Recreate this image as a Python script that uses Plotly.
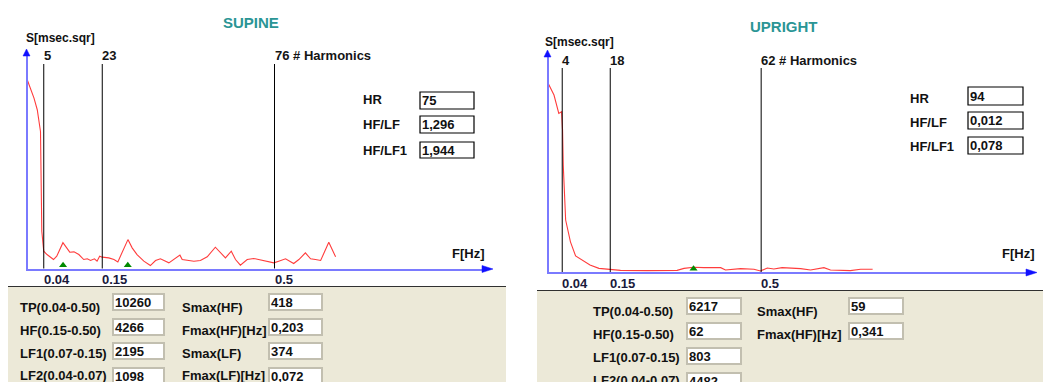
import plotly.graph_objects as go

# ---------------- data ----------------
# SUPINE spectrum: harmonic index and power S [msec.sqr]
supine_k = [0, 2, 3, 4, 4.4, 5, 6, 8, 9, 10.9, 13, 14.3, 15.8, 17.3, 18.4, 19.4, 20.6, 21.4, 22.2, 23,
            25, 26.6, 27.8, 30.9, 32.2, 33.7, 35.8, 37.8, 39.4, 40.9, 43.5, 45, 46.9, 47.6, 49.1, 51.2,
            53.2, 55.3, 57.8, 59.4, 60.9, 62.7, 64, 65.5, 67.6, 69.6, 72.7, 74.3, 75.8, 77.3, 79.4,
            81.9, 83.5, 85.5, 87.1, 88.6, 90.2, 92.7, 94.8]
supine_s = [2721, 2466, 2298, 1984, 539, 250, 202, 130, 178, 374, 236, 241, 202, 130, 140, 116, 140, 106, 178, 164,
            154, 130, 96, 418, 299, 202, 106, 43, 116, 140, 82, 130, 193, 130, 120, 106,
            116, 169, 308, 226, 154, 250, 130, 48, 130, 145, 116, 92, 82, 106, 140,
            72, 130, 226, 140, 130, 116, 380, 169]

# UPRIGHT spectrum
upright_k = [0, 1.6, 3.0, 3.8, 4.1, 4.3, 5.0, 6.4, 7.9, 9.8, 12.1, 14.7, 17.9, 21, 28.8, 34.6, 37.5, 39.5,
             42.3, 45.3, 50.2, 51.6, 56, 59.9, 61.8, 63.8, 65.7, 68.1, 73.5, 76.4, 80.3, 82.2, 88, 91, 94.5]
upright_s = [2369, 2230, 1999, 2020, 1789, 1348, 655, 380, 202, 151, 88, 46, 38, 21, 17, 25, 21, 46,
             59, 55, 55, 25, 42, 34, 13, 50, 38, 55, 42, 25, 55, 25, 17, 34, 34]

# band-limit harmonics and their frequency labels
supine_harm = [5, 23, 76]
upright_harm = [4, 18, 62]
harm_top_labels_sup = ["5", "23", "76 # Harmonics"]
harm_top_labels_up = ["4", "18", "62 # Harmonics"]
freq_tick_labels = ["0.04", "0.15", "0.5"]

# peak frequencies (Hz) marked with green triangles
supine_peak_f = [0.072, 0.203]
upright_peak_f = [0.341]

# readouts
sup_top_labels = ["HR", "HF/LF", "HF/LF1"]
sup_top_values = ["75", "1,296", "1,944"]
up_top_labels = ["HR", "HF/LF", "HF/LF1"]
up_top_values = ["94", "0,012", "0,078"]

band_labels = ["TP(0.04-0.50)", "HF(0.15-0.50)", "LF1(0.07-0.15)", "LF2(0.04-0.07)"]
sup_band_values = ["10260", "4266", "2195", "1098"]
up_band_values = ["6217", "62", "803", "4482"]
sup_max_labels = ["Smax(HF)", "Fmax(HF)[Hz]", "Smax(LF)", "Fmax(LF)[Hz]"]
sup_max_values = ["418", "0,203", "374", "0,072"]
up_max_labels = ["Smax(HF)", "Fmax(HF)[Hz]"]
up_max_values = ["59", "0,341"]

# ---------------- layout helpers ----------------
W, H = 1043, 382
FONT = "Liberation Sans, Arial, sans-serif"


def px(x):
    return x / W


def py(y):
    return 1 - y / H


shapes = []
annotations = []


def ann(text, x, y, size=13, color="#111111", xanchor="left", bold=True):
    annotations.append(dict(
        text=f"<b>{text}</b>" if bold else text, x=px(x), y=py(y), xref="paper", yref="paper",
        xanchor=xanchor, yanchor="middle", showarrow=False,
        font=dict(family=FONT, size=size, color=color)))


def rect(x0, y0, x1, y1, fill, line, lw=1):
    shapes.append(dict(type="rect", xref="paper", yref="paper",
                       x0=px(x0), x1=px(x1), y0=py(y1), y1=py(y0),
                       fillcolor=fill, line=dict(color=line, width=lw), layer="below"))


def tri(points, color):
    d = "M " + " L ".join(f"{px(a)},{py(b)}" for a, b in points) + " Z"
    shapes.append(dict(type="path", xref="paper", yref="paper", path=d,
                       fillcolor=color, line=dict(color=color, width=0.5), layer="above"))


AXIS_COL = "#7a7aff"
ARROW_COL = "#1010ff"
CURVE_COL = "rgb(255,60,60)"

# panel geometry (pixels)
panels = [
    dict(name="SUPINE", k=supine_k, s=supine_s, harm=supine_harm, tops=harm_top_labels_sup,
         n05=76, peaks=supine_peak_f,
         x0=27.5, x1=483, ppk=3.25, base=268.5, top=55, maxpx=188, vtop=64,
         title_xy=(251, 23), ylab_xy=(26, 38), toplab_y=56, tick_y=279, fhz_xy=(452, 253),
         xarrow=(482, 493), yarrow=(49, 56)),
    dict(name="UPRIGHT", k=upright_k, s=upright_s, harm=upright_harm, tops=harm_top_labels_up,
         n05=62, peaks=upright_peak_f,
         x0=548.5, x1=1027, ppk=3.43, base=272, top=56, maxpx=188, vtop=68,
         title_xy=(784, 26), ylab_xy=(545, 42), toplab_y=60, tick_y=283, fhz_xy=(1002, 253),
         xarrow=(1026, 1037), yarrow=(50, 57)),
]

fig = go.Figure()

for i, p in enumerate(panels):
    xa = "x" if i == 0 else "x2"
    ya = "y" if i == 0 else "y2"
    ymax = max(p["s"])
    plot_h = p["base"] - p["top"]
    yr = ymax * plot_h / p["maxpx"]
    xr = (p["x1"] - p["x0"]) / p["ppk"]

    # spectrum curve
    fig.add_trace(go.Scatter(x=p["k"], y=p["s"], mode="lines", xaxis=xa, yaxis=ya,
                             line=dict(color=CURVE_COL, width=1.1), hoverinfo="skip",
                             showlegend=False))
    # peak triangles
    pk = [f * p["n05"] / 0.5 for f in p["peaks"]]
    fig.add_trace(go.Scatter(x=pk, y=[3.2 * yr / plot_h] * len(pk), mode="markers",
                             xaxis=xa, yaxis=ya, cliponaxis=False, showlegend=False,
                             hoverinfo="skip",
                             marker=dict(symbol="triangle-up", size=7, color="#008a00",
                                         line=dict(width=0))))
    # harmonic boundary lines
    vfrac = (p["base"] - p["vtop"]) / plot_h
    for h in p["harm"]:
        shapes.append(dict(type="line", xref=xa, yref=f"{ya} domain", x0=h, x1=h, y0=0, y1=vfrac,
                           line=dict(color="#000000", width=1)))
    # top harmonic labels & bottom freq labels
    for h, tl, fl in zip(p["harm"], p["tops"], freq_tick_labels):
        xpix = p["x0"] + h * p["ppk"]
        ann(tl, xpix - 2, p["toplab_y"], size=13, color="#151515")
        ann(fl, xpix - 2, p["tick_y"], size=13, color="#1a1a3c")

    dom_x = [px(p["x0"]), px(p["x1"])]
    dom_y = [py(p["base"]), py(p["top"])]
    axcommon = dict(showgrid=False, zeroline=False, showticklabels=False, ticks="",
                    showline=True, linecolor=AXIS_COL, linewidth=2, fixedrange=True)
    fig.update_layout(**{
        ("xaxis" if i == 0 else "xaxis2"): dict(domain=dom_x, range=[0, xr], anchor=ya, **axcommon),
        ("yaxis" if i == 0 else "yaxis2"): dict(domain=dom_y, range=[0, yr], anchor=xa, **axcommon),
    })

    # arrow heads
    bx = p["base"] + 0.5
    tri([(p["xarrow"][0], bx - 3.5), (p["xarrow"][1], bx), (p["xarrow"][0], bx + 3.5)], ARROW_COL)
    ax_x = p["x0"] - 1
    tri([(ax_x - 3.5, p["yarrow"][1]), (ax_x, p["yarrow"][0]), (ax_x + 3.5, p["yarrow"][1])], ARROW_COL)

    # titles
    ann(p["name"], p["title_xy"][0], p["title_xy"][1], size=15, color="#2a9595", xanchor="center")
    ann("S[msec.sqr]", p["ylab_xy"][0] - 2, p["ylab_xy"][1], size=12, color="#111111")
    ann("F[Hz]", p["fhz_xy"][0] - 2, p["fhz_xy"][1], size=13, color="#111111")

# ---------------- readout boxes (upper right of each chart) ----------------
top_rows_sup = [(100, 92, 109), (124, 116, 133), (150, 142, 158)]
for (ly, b0, b1), lab, val in zip(top_rows_sup, sup_top_labels, sup_top_values):
    ann(lab, 361, ly)
    rect(420, b0, 474, b1, "white", "#000000", 1.2)
    ann(val, 420, (b0 + b1) / 2)

top_rows_up = [(98, 87, 105), (122, 112, 129), (146, 137, 154)]
for (ly, b0, b1), lab, val in zip(top_rows_up, up_top_labels, up_top_values):
    ann(lab, 908, ly)
    rect(968, b0, 1023, b1, "white", "#000000", 1.2)
    ann(val, 968, (b0 + b1) / 2)

# ---------------- bottom beige panels ----------------
BEIGE = "#ece9d8"
BOX_LINE = "#c2bfb0"
rect(8, 286, 506, 383, BEIGE, BEIGE, 0)
shapes.append(dict(type="line", xref="paper", yref="paper", x0=px(8), x1=px(506), y0=py(286.5), y1=py(286.5),
                   line=dict(color="#303030", width=1)))
rect(537, 290, 1043, 383, BEIGE, BEIGE, 0)
shapes.append(dict(type="line", xref="paper", yref="paper", x0=px(537), x1=px(1043), y0=py(290.5), y1=py(290.5),
                   line=dict(color="#303030", width=1)))

sup_label_y = [307, 330, 353, 375]
sup_box_y = [294, 319, 343, 368]
for lab, val, ly, by in zip(band_labels, sup_band_values, sup_label_y, sup_box_y):
    ann(lab, 18, ly)
    rect(113, by, 164, by + 16, "white", BOX_LINE, 2)
    ann(val, 113, by + 8)
for lab, val, ly, by in zip(sup_max_labels, sup_max_values, sup_label_y, sup_box_y):
    ann(lab, 180, ly)
    rect(269, by, 322, by + 16, "white", BOX_LINE, 2)
    ann(val, 269, by + 8)

up_label_y = [311, 334, 357, 380]
up_box_y = [298, 323, 348, 373]
for lab, val, ly, by in zip(band_labels, up_band_values, up_label_y, up_box_y):
    ann(lab, 591, ly)
    rect(687, by, 741, by + 16, "white", BOX_LINE, 2)
    ann(val, 687, by + 8)
for lab, val, ly, by in zip(up_max_labels, up_max_values, up_label_y, up_box_y):
    ann(lab, 755, ly)
    rect(849, by, 903, by + 16, "white", BOX_LINE, 2)
    ann(val, 849, by + 8)

fig.update_layout(width=W, height=H, margin=dict(l=0, r=0, t=0, b=0),
                  paper_bgcolor="white", plot_bgcolor="rgba(0,0,0,0)",
                  shapes=shapes, annotations=annotations, showlegend=False,
                  font=dict(family=FONT))

fig.write_html("out.html", config={"displayModeBar": False})
